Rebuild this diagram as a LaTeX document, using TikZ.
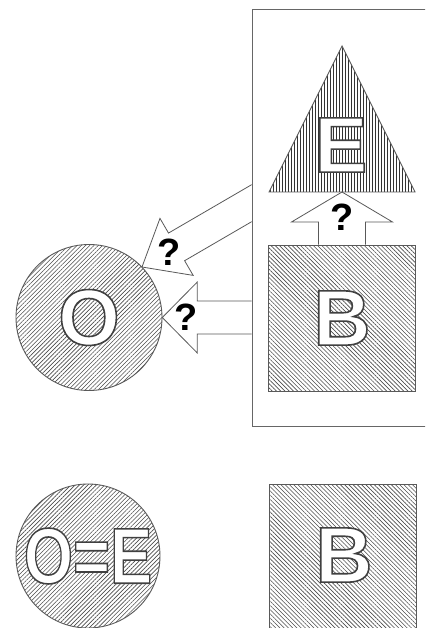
\documentclass[tikz,border=0pt]{standalone}
\usepackage{fontspec}
\usepackage{graphicx}
\setmainfont{Liberation Sans}
\usetikzlibrary{patterns.meta,calc}

\definecolor{edge}{gray}{0.35}
\definecolor{hatch}{gray}{0.3}

% white letters with a thin dark outline (fill-and-stroke text rendering)
\newcommand\outlined[1]{%
  {\color{white}\special{pdf:literal direct 2 Tr 1.6 w 0.25 G}#1\special{pdf:literal direct 0 Tr 0.4 w}}}

% hollow block arrow: [opts]{tip}{tail}{head length}{head half width}{shaft half width}
\newcommand\hollowarrow[6][]{%
  \coordinate (hb) at ($(#2)!#4!(#3)$);
  \path[hollow,#1] ($(#3)!#6!90:(#2)$) -- ($(hb)!#6!-90:(#3)$)
    -- ($(hb)!#5!-90:(#3)$) -- (#2) -- ($(hb)!#5!90:(#3)$)
    -- ($(hb)!#6!90:(#3)$) -- ($(#3)!#6!-90:(#2)$);
}

\tikzset{
  shapeline/.style={draw=edge, line width=0.9pt},
  frameline/.style={draw=black!60, line width=0.9pt},
  hollow/.style={draw=edge, line width=0.8pt, fill=white, line join=miter},
  bigletter/.style={font=\fontsize{79}{79}\selectfont\bfseries, inner sep=0pt},
  qmark/.style={font=\fontsize{38}{38}\selectfont\bfseries, inner sep=0pt},
  nehatch/.style={pattern={Lines[angle=45,distance=3pt,line width=0.6pt]}, pattern color=hatch},
  nwhatch/.style={pattern={Lines[angle=-45,distance=3pt,line width=0.6pt]}, pattern color=hatch},
  vhatch/.style={pattern={Lines[angle=90,distance=3pt,line width=0.6pt]}, pattern color=black!80},
}

\begin{document}
\begin{tikzpicture}[x=1pt, y=-1pt]
  \clip (0,0) rectangle (425,628);

  % upper row
  \node[circle, shapeline, nehatch, minimum size=146pt, bigletter] (O) at (89,317.5) {\outlined{O}};
  \coordinate (tail1) at (300,317.5);
  \coordinate (tail2) at (297.5,176.5);
  \coordinate (tip2) at (142,267);
  \begin{scope}
    \clip (0,0) rectangle (251.5,628);
    \hollowarrow{tip2}{tail2}{40pt}{33pt}{16pt}
    \hollowarrow{O.east}{tail1}{35pt}{35.5pt}{16.5pt}
  \end{scope}
  \node[qmark] (q1) at (169,252) {?};
  \node[qmark] (q2) at (186,317.5) {?};

  \path[shapeline, vhatch] (342,46) coordinate (apex) -- (415,192) coordinate (br)
    -- (269,192) coordinate (bl) -- cycle;
  \coordinate (basemid) at ($(bl)!0.5!(br)$);
  \node[bigletter] (E) at (341,145) {\outlined{E}};

  \node[rectangle, shapeline, nwhatch, minimum width=147pt, minimum height=146pt, bigletter] (B) at (342,318) {\outlined{B}};
  \hollowarrow{basemid}{B.north}{30pt}{50.5pt}{23.5pt}
  \node[qmark] (q3) at (342,217) {?};

  \draw[frameline] (252,9) rectangle (440,426);

  % lower row
  \node[circle, shapeline, nehatch, minimum size=144pt, bigletter] (OE) at (88,556)
    {\scalebox{0.8}[1]{\outlined{O=E}}};
  \node[rectangle, shapeline, nwhatch, minimum width=147pt, minimum height=216pt] (B2) at (342.5,592) {};
  \node[bigletter] (B2l) at (344,555) {\outlined{B}};
\end{tikzpicture}
\end{document}
